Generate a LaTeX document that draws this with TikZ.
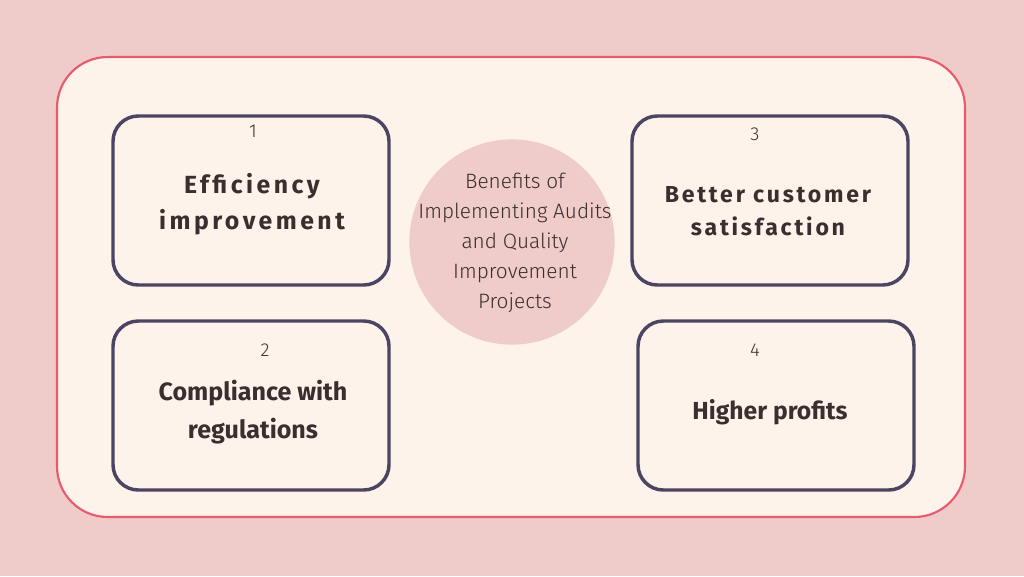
\documentclass[tikz,border=0pt]{standalone}
\usepackage{fontspec}
\setmainfont{Fira Sans}
\newfontfamily\lightf{Fira Sans Light}
\newfontfamily\boldf{Fira Sans Bold}
\newfontfamily\boldsp[LetterSpace=12]{Fira Sans Bold}
\newfontfamily\boldspw[LetterSpace=14]{Fira Sans Bold}
\definecolor{bgpink}{HTML}{EFCBC9}
\definecolor{cream}{HTML}{FDF3EA}
\definecolor{redline}{HTML}{E85A6E}
\definecolor{boxline}{HTML}{4B4463}
\definecolor{txt}{HTML}{3A2E2E}
\begin{document}
\begin{tikzpicture}[x=0.75pt,y=-0.75pt,
  card/.style={draw=boxline,line width=2.6pt,rounded corners=19pt,fill=cream},
  numlbl/.style={text=txt,font=\lightf\fontsize{14}{15}\selectfont,inner sep=0pt},
  title/.style={text=txt,align=center,inner sep=0pt},
]
\fill[bgpink] (0,0) rectangle (1024,576);
\useasboundingbox (0,0) rectangle (1024,576);
\draw[draw=redline,line width=1.6pt,fill=cream,rounded corners=38pt] (57,57) rectangle (965,517);
\draw[card] (113,116) rectangle (389,285);
\draw[card] (632,116) rectangle (908,285);
\draw[card] (113,321) rectangle (389,490);
\draw[card] (638,321) rectangle (914,490);
\fill[bgpink] (512,242) circle (77pt);
\node[title,font=\lightf\fontsize{15.6}{22.5}\selectfont] (c) at (515,243) {Benefits of\\Implementing Audits\\and Quality\\Improvement\\Projects};
\node[numlbl] (n1) at (253,131) {1};
\node[numlbl] (n3) at (755,134) {3};
\node[numlbl] (n2) at (265,350) {2};
\node[numlbl] (n4) at (755,350) {4};
\node[title,font=\boldspw\fontsize{18.6}{27}\selectfont] (t1) at (252,204) {Efficiency\\improvement};
\node[title,font=\boldsp\fontsize{17.3}{25}\selectfont] (t3) at (768,211) {Better customer\\satisfaction};
\node[title,font=\boldf\fontsize{18.8}{28}\selectfont] (t2) at (253,412) {Compliance with\\regulations};
\node[title,font=\boldf\fontsize{18.5}{28}\selectfont] (t4) at (770,412) {Higher profits};
\end{tikzpicture}
\end{document}
